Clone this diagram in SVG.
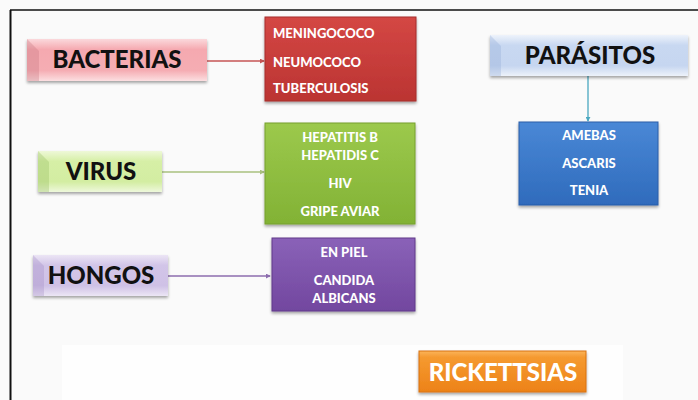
<svg xmlns="http://www.w3.org/2000/svg" width="698" height="400" viewBox="0 0 698 400">
  <defs>
    <style>
      .cat { font-family: Lato, "Liberation Sans", sans-serif; font-weight: 900; font-size: 24px; fill: #111; text-anchor: middle; }
      .item { font-family: Lato, "Liberation Sans", sans-serif; font-weight: 900; font-size: 13px; fill: #fff; }
      .mid { text-anchor: middle; }
      .conn { fill: none; stroke-width: 1.3; }
      .bevel { opacity: 0.3; }
    </style>
    <filter id="shadow" x="-10%" y="-10%" width="120%" height="130%">
      <feGaussianBlur in="SourceAlpha" stdDeviation="1.5"/>
      <feOffset dx="0" dy="2" result="b"/>
      <feComponentTransfer><feFuncA type="linear" slope="0.35"/></feComponentTransfer>
      <feMerge><feMergeNode/><feMergeNode in="SourceGraphic"/></feMerge>
    </filter>
    <linearGradient id="gPink" x1="0" y1="0" x2="0" y2="1">
      <stop offset="0" stop-color="#fbd9dc"/>
      <stop offset="0.25" stop-color="#f5a9b0"/>
      <stop offset="0.75" stop-color="#f5adb3"/>
      <stop offset="1" stop-color="#fcdfe1"/>
    </linearGradient>
    <linearGradient id="gLime" x1="0" y1="0" x2="0" y2="1">
      <stop offset="0" stop-color="#eef8d8"/>
      <stop offset="0.25" stop-color="#d6efa6"/>
      <stop offset="0.75" stop-color="#d3eda2"/>
      <stop offset="1" stop-color="#eef8db"/>
    </linearGradient>
    <linearGradient id="gLilac" x1="0" y1="0" x2="0" y2="1">
      <stop offset="0" stop-color="#ece5f5"/>
      <stop offset="0.25" stop-color="#d2c5e8"/>
      <stop offset="0.75" stop-color="#cfc1e6"/>
      <stop offset="1" stop-color="#ece6f5"/>
    </linearGradient>
    <linearGradient id="gSky" x1="0" y1="0" x2="0" y2="1">
      <stop offset="0" stop-color="#eef3fb"/>
      <stop offset="0.25" stop-color="#c8d8f1"/>
      <stop offset="0.75" stop-color="#c6d6f0"/>
      <stop offset="1" stop-color="#edf2fa"/>
    </linearGradient>
    <linearGradient id="gRed" x1="0" y1="0" x2="0" y2="1">
      <stop offset="0" stop-color="#d44744"/>
      <stop offset="1" stop-color="#bb3432"/>
    </linearGradient>
    <linearGradient id="gGreen" x1="0" y1="0" x2="0" y2="1">
      <stop offset="0" stop-color="#9cc94c"/>
      <stop offset="1" stop-color="#82b235"/>
    </linearGradient>
    <linearGradient id="gPurple" x1="0" y1="0" x2="0" y2="1">
      <stop offset="0" stop-color="#8a62b8"/>
      <stop offset="1" stop-color="#72479f"/>
    </linearGradient>
    <linearGradient id="gBlue" x1="0" y1="0" x2="0" y2="1">
      <stop offset="0" stop-color="#4a88d6"/>
      <stop offset="1" stop-color="#2f6bbc"/>
    </linearGradient>
    <linearGradient id="gOrange" x1="0" y1="0" x2="0" y2="1">
      <stop offset="0" stop-color="#fbb45a"/>
      <stop offset="0.15" stop-color="#f59a30"/>
      <stop offset="1" stop-color="#ed8218"/>
    </linearGradient>
    <marker id="arrow" viewBox="0 0 6 6" refX="5" refY="3" markerWidth="5" markerHeight="5" orient="auto" markerUnits="userSpaceOnUse">
      <path d="M0,0 L6,3 L0,6 Z" fill="context-stroke"/>
    </marker>
  </defs>

  <!-- page background and frame -->
  <rect width="698" height="400" fill="#fafafa"/>
  <rect x="62" y="345" width="561" height="55" fill="#fefefe"/>
  <line x1="10" y1="10" x2="698" y2="10" stroke="#111" stroke-width="1.5"/>
  <line x1="10.5" y1="10" x2="10.5" y2="400" stroke="#111" stroke-width="2"/>

  <!-- connectors -->
  <g id="connectors">
    <line class="conn" x1="207" y1="61" x2="264" y2="61" stroke="#c65454" marker-end="url(#arrow)"/>
    <line class="conn" x1="162" y1="172" x2="264" y2="172" stroke="#a9c07e" marker-end="url(#arrow)"/>
    <line class="conn" x1="168" y1="276" x2="270" y2="276" stroke="#8c6cae" marker-end="url(#arrow)"/>
    <line class="conn" x1="588" y1="76" x2="588" y2="121" stroke="#4aa8c0" marker-end="url(#arrow)"/>
  </g>

  <!-- category: bacterias -->
  <g id="bacterias">
    <rect x="27" y="39" width="180" height="42" fill="url(#gPink)" filter="url(#shadow)"/>
    <polygon class="bevel" points="27,39 39,51 39,81 27,81" fill="#c0707a"/>
    <text class="cat" x="117" y="68">BACTERIAS</text>
  </g>
  <g id="bacterias-list">
    <rect x="265" y="17" width="151" height="84" fill="url(#gRed)" stroke="#a52f2d" stroke-width="1" filter="url(#shadow)"/>
    <text class="item" x="273" y="38">MENINGOCOCO</text>
    <text class="item" x="273" y="67">NEUMOCOCO</text>
    <text class="item" x="273" y="93">TUBERCULOSIS</text>
  </g>

  <!-- category: virus -->
  <g id="virus">
    <rect x="38" y="151" width="124" height="41" fill="url(#gLime)" filter="url(#shadow)"/>
    <polygon class="bevel" points="38,151 49,162 49,192 38,192" fill="#8fb55a"/>
    <text class="cat" x="101" y="180">VIRUS</text>
  </g>
  <g id="virus-list">
    <rect x="265" y="123" width="150" height="101" fill="url(#gGreen)" stroke="#76a02e" stroke-width="1" filter="url(#shadow)"/>
    <text class="item mid" x="340" y="142">HEPATITIS B</text>
    <text class="item mid" x="340" y="160">HEPATIDIS C</text>
    <text class="item mid" x="340" y="188">HIV</text>
    <text class="item mid" x="340" y="216">GRIPE AVIAR</text>
  </g>

  <!-- category: hongos -->
  <g id="hongos">
    <rect x="33" y="255" width="135" height="41" fill="url(#gLilac)" filter="url(#shadow)"/>
    <polygon class="bevel" points="33,255 44,266 44,296 33,296" fill="#9a84c0"/>
    <text class="cat" x="101" y="284">HONGOS</text>
  </g>
  <g id="hongos-list">
    <rect x="272" y="238" width="143" height="73" fill="url(#gPurple)" stroke="#603a8a" stroke-width="1" filter="url(#shadow)"/>
    <text class="item mid" x="344" y="257">EN PIEL</text>
    <text class="item mid" x="344" y="285">CANDIDA</text>
    <text class="item mid" x="344" y="303">ALBICANS</text>
  </g>

  <!-- category: parasitos -->
  <g id="parasitos">
    <rect x="490" y="35" width="198" height="41" fill="url(#gSky)" filter="url(#shadow)"/>
    <polygon class="bevel" points="490,35 501,46 501,76 490,76" fill="#8aa6d4"/>
    <text class="cat" x="590" y="64">PARÁSITOS</text>
  </g>
  <g id="parasitos-list">
    <rect x="519" y="122" width="139" height="83" fill="url(#gBlue)" stroke="#2a5ea8" stroke-width="1" filter="url(#shadow)"/>
    <text class="item mid" x="589" y="140">AMEBAS</text>
    <text class="item mid" x="589" y="168">ASCARIS</text>
    <text class="item mid" x="589" y="195">TENIA</text>
  </g>

  <!-- category: rickettsias -->
  <g id="rickettsias">
    <rect x="419" y="351" width="167" height="41" fill="url(#gOrange)" stroke="#d8730f" stroke-width="1" filter="url(#shadow)"/>
    <text class="cat" x="503" y="381" style="fill:#fff">RICKETTSIAS</text>
  </g>
</svg>
